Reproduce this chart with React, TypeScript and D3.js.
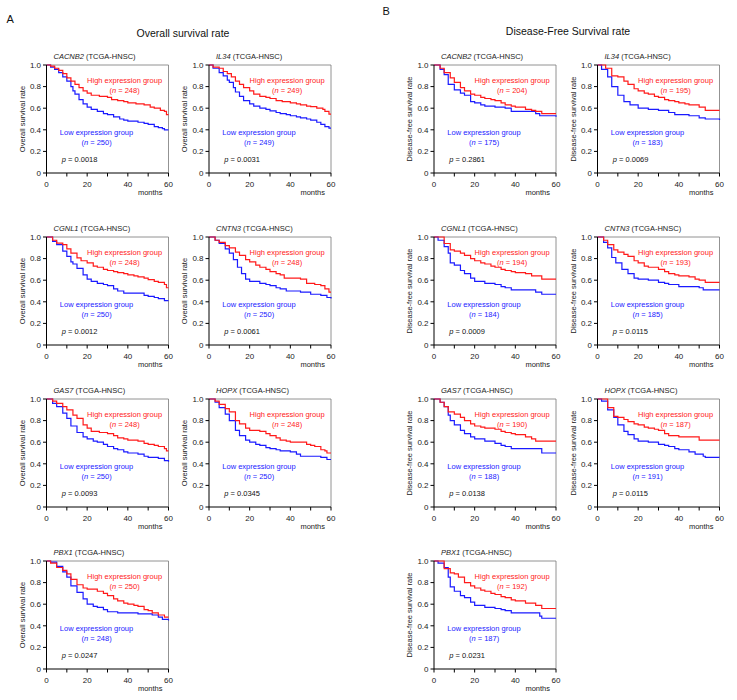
import React from "react";
import * as d3 from "d3";

type Pt = [number, number];

const GENES = ["CACNB2", "IL34", "CGNL1", "CNTN3", "GAS7", "HOPX", "PBX1"];
const X_TICKS = [0, 10, 20, 30, 40, 50, 60];
const X_LABELS = [0, 20, 40, 60];
const Y_TICKS = [0, 0.2, 0.4, 0.6, 0.8, 1.0];

const osHighN = [248, 249, 248, 248, 248, 248, 250];
const osLowN = [250, 249, 250, 250, 250, 250, 248];
const osP = ["0.0018", "0.0031", "0.0012", "0.0061", "0.0093", "0.0345", "0.0247"];
const dfsHighN = [204, 195, 194, 193, 190, 187, 192];
const dfsLowN = [175, 183, 184, 185, 188, 191, 187];
const dfsP = ["0.2861", "0.0069", "0.0009", "0.0115", "0.0138", "0.0115", "0.0231"];

// Overall survival
const osCACNB2High: Pt[] = [[0,1],[2,0.99],[4,0.97],[6,0.95],[8,0.92],[10,0.88],[12,0.85],[14,0.82],[16,0.79],[18,0.76],[20,0.74],[22,0.72],[26,0.71],[30,0.70],[32,0.68],[35,0.67],[38,0.66],[40,0.65],[44,0.64],[48,0.63],[51,0.61],[53,0.60],[56,0.58],[58,0.57],[59,0.54],[60,0.54]];
const osCACNB2Low: Pt[] = [[0,1],[2,0.98],[4,0.96],[6,0.93],[8,0.89],[10,0.85],[12,0.80],[13,0.76],[14,0.73],[16,0.68],[18,0.64],[20,0.61],[22,0.59],[25,0.57],[28,0.55],[30,0.54],[33,0.52],[36,0.50],[38,0.49],[40,0.48],[45,0.47],[48,0.46],[50,0.45],[53,0.43],[55,0.42],[57,0.41],[58,0.40],[60,0.40]];
const osIL34High: Pt[] = [[0,1],[2,0.98],[5,0.97],[7,0.94],[9,0.92],[11,0.89],[13,0.85],[15,0.82],[17,0.79],[20,0.76],[22,0.73],[25,0.71],[28,0.70],[30,0.69],[33,0.67],[36,0.66],[40,0.65],[43,0.64],[45,0.63],[48,0.62],[50,0.615],[53,0.60],[56,0.59],[57,0.57],[59,0.545],[60,0.545]];
const osIL34Low: Pt[] = [[0,1],[2,0.97],[5,0.93],[7,0.90],[9,0.86],[10,0.84],[12,0.79],[13,0.75],[15,0.71],[17,0.67],[20,0.64],[22,0.62],[25,0.60],[28,0.59],[30,0.575],[33,0.56],[35,0.55],[38,0.54],[40,0.53],[43,0.52],[45,0.51],[48,0.50],[50,0.49],[53,0.47],[55,0.45],[57,0.43],[59,0.415],[60,0.415]];
const osCGNL1High: Pt[] = [[0,1],[3,0.97],[5,0.944],[8,0.93],[10,0.89],[12,0.85],[15,0.806],[17,0.78],[20,0.76],[23,0.73],[25,0.72],[28,0.70],[30,0.69],[33,0.68],[35,0.67],[38,0.66],[40,0.65],[43,0.64],[45,0.63],[48,0.62],[50,0.605],[53,0.59],[55,0.58],[58,0.56],[59,0.53],[60,0.53]];
const osCGNL1Low: Pt[] = [[0,1],[3,0.96],[5,0.93],[8,0.87],[10,0.82],[12,0.77],[13,0.75],[15,0.71],[18,0.65],[20,0.61],[22,0.59],[25,0.57],[28,0.56],[30,0.55],[33,0.52],[35,0.50],[38,0.48],[45,0.48],[48,0.46],[50,0.45],[53,0.44],[55,0.43],[58,0.41],[60,0.41]];
const osCNTN3High: Pt[] = [[0,1],[3,0.97],[5,0.95],[8,0.92],[10,0.90],[13,0.86],[15,0.83],[18,0.79],[20,0.77],[23,0.74],[25,0.72],[28,0.70],[30,0.68],[33,0.66],[35,0.65],[37,0.62],[45,0.61],[48,0.57],[52,0.56],[55,0.55],[57,0.52],[59,0.49],[60,0.49]];
const osCNTN3Low: Pt[] = [[0,1],[3,0.97],[5,0.94],[8,0.89],[10,0.85],[12,0.79],[14,0.72],[16,0.66],[18,0.61],[20,0.59],[25,0.57],[28,0.56],[30,0.55],[33,0.53],[35,0.52],[38,0.50],[45,0.49],[50,0.47],[55,0.46],[58,0.44],[60,0.43]];
const osGAS7High: Pt[] = [[0,1],[3,0.98],[5,0.96],[8,0.93],[10,0.90],[13,0.85],[15,0.82],[18,0.76],[20,0.73],[22,0.70],[26,0.69],[30,0.68],[33,0.66],[35,0.64],[38,0.63],[40,0.62],[45,0.61],[48,0.59],[50,0.58],[53,0.57],[55,0.56],[58,0.54],[59,0.52],[60,0.52]];
const osGAS7Low: Pt[] = [[0,1],[3,0.96],[5,0.93],[8,0.87],[10,0.82],[12,0.75],[15,0.69],[18,0.65],[20,0.63],[23,0.61],[25,0.60],[28,0.58],[30,0.56],[33,0.54],[35,0.53],[38,0.51],[40,0.50],[45,0.49],[48,0.47],[50,0.46],[55,0.45],[58,0.43],[60,0.42]];
const osHOPXHigh: Pt[] = [[0,1],[3,0.98],[5,0.95],[8,0.91],[10,0.88],[13,0.80],[15,0.77],[18,0.73],[20,0.71],[25,0.70],[28,0.68],[30,0.66],[33,0.64],[35,0.62],[38,0.61],[40,0.60],[45,0.60],[48,0.58],[50,0.57],[52,0.56],[55,0.53],[57,0.52],[58,0.50],[60,0.50]];
const osHOPXLow: Pt[] = [[0,1],[3,0.97],[5,0.92],[8,0.86],[10,0.80],[13,0.71],[15,0.66],[18,0.62],[20,0.60],[23,0.58],[25,0.57],[28,0.55],[30,0.54],[33,0.53],[35,0.52],[40,0.51],[43,0.49],[45,0.47],[50,0.47],[55,0.46],[58,0.44],[60,0.44]];
const osPBX1High: Pt[] = [[0,1],[2,0.98],[5,0.94],[8,0.913],[10,0.88],[12,0.83],[15,0.78],[18,0.75],[20,0.74],[25,0.72],[28,0.70],[30,0.68],[33,0.65],[35,0.63],[38,0.61],[40,0.60],[43,0.59],[45,0.58],[48,0.55],[50,0.54],[52,0.52],[55,0.50],[58,0.48],[60,0.48]];
const osPBX1Low: Pt[] = [[0,1],[2,0.99],[5,0.95],[8,0.90],[10,0.85],[12,0.77],[15,0.71],[18,0.65],[20,0.60],[23,0.58],[25,0.57],[28,0.55],[30,0.53],[35,0.52],[45,0.51],[52,0.50],[55,0.48],[57,0.46],[60,0.45]];

// Disease-free survival
const dfsCACNB2High: Pt[] = [[0,1],[3,0.97],[5,0.93],[8,0.88],[10,0.84],[13,0.79],[15,0.76],[18,0.73],[20,0.72],[23,0.70],[25,0.69],[28,0.68],[30,0.67],[33,0.65],[35,0.63],[38,0.62],[40,0.61],[45,0.59],[48,0.58],[50,0.57],[53,0.55],[60,0.55]];
const dfsCACNB2Low: Pt[] = [[0,1],[3,0.96],[5,0.91],[7,0.82],[10,0.77],[13,0.74],[15,0.72],[18,0.66],[20,0.65],[23,0.63],[25,0.62],[30,0.61],[35,0.60],[38,0.57],[45,0.57],[50,0.55],[52,0.53],[60,0.52]];
const dfsIL34High: Pt[] = [[0,1],[2,1],[4,0.97],[7,0.90],[10,0.89],[13,0.85],[15,0.82],[18,0.78],[20,0.76],[23,0.74],[25,0.73],[28,0.71],[30,0.70],[33,0.68],[35,0.67],[38,0.66],[40,0.65],[43,0.64],[45,0.63],[50,0.61],[53,0.58],[60,0.58]];
const dfsIL34Low: Pt[] = [[0,1],[2,0.96],[5,0.89],[7,0.80],[10,0.72],[13,0.66],[16,0.63],[20,0.60],[25,0.59],[30,0.58],[35,0.56],[38,0.54],[45,0.53],[50,0.51],[53,0.50],[60,0.49]];
const dfsCGNL1High: Pt[] = [[0,1],[3,1],[5,0.94],[8,0.88],[10,0.87],[13,0.85],[15,0.83],[18,0.80],[20,0.78],[23,0.76],[25,0.75],[28,0.73],[30,0.72],[33,0.70],[35,0.69],[38,0.68],[40,0.67],[45,0.66],[48,0.64],[53,0.61],[60,0.61]];
const dfsCGNL1Low: Pt[] = [[0,1],[2,0.97],[5,0.91],[7,0.85],[8,0.76],[10,0.74],[13,0.69],[15,0.66],[18,0.62],[20,0.59],[25,0.57],[30,0.56],[33,0.54],[35,0.53],[38,0.51],[45,0.51],[50,0.49],[53,0.47],[60,0.47]];
const dfsCNTN3High: Pt[] = [[0,1],[3,0.97],[5,0.93],[8,0.88],[10,0.86],[13,0.84],[15,0.82],[18,0.78],[20,0.76],[23,0.73],[25,0.72],[30,0.70],[33,0.68],[35,0.66],[38,0.65],[40,0.64],[45,0.63],[48,0.61],[50,0.60],[53,0.58],[60,0.58]];
const dfsCNTN3Low: Pt[] = [[0,1],[3,0.95],[5,0.90],[7,0.81],[9,0.76],[12,0.70],[15,0.66],[18,0.62],[20,0.61],[25,0.60],[30,0.58],[33,0.57],[35,0.56],[40,0.54],[45,0.54],[50,0.53],[52,0.51],[60,0.51]];
const dfsGAS7High: Pt[] = [[0,1],[3,0.97],[5,0.93],[7,0.88],[10,0.86],[13,0.83],[15,0.80],[18,0.77],[20,0.75],[23,0.74],[25,0.73],[30,0.72],[33,0.70],[35,0.69],[38,0.68],[40,0.67],[45,0.65],[48,0.63],[50,0.61],[60,0.61]];
const dfsGAS7Low: Pt[] = [[0,1],[3,0.97],[5,0.93],[7,0.85],[8,0.80],[10,0.76],[13,0.71],[15,0.68],[18,0.65],[20,0.63],[25,0.61],[30,0.59],[33,0.57],[35,0.56],[38,0.54],[52,0.54],[53,0.50],[60,0.50]];
const dfsHOPXHigh: Pt[] = [[0,1],[2,1],[5,0.92],[8,0.84],[10,0.83],[13,0.81],[15,0.79],[18,0.77],[20,0.76],[23,0.74],[25,0.73],[28,0.72],[30,0.71],[33,0.68],[35,0.66],[40,0.65],[48,0.65],[50,0.62],[60,0.62]];
const dfsHOPXLow: Pt[] = [[0,1],[2,0.98],[5,0.90],[8,0.83],[10,0.76],[13,0.70],[15,0.67],[18,0.63],[20,0.61],[25,0.60],[30,0.58],[33,0.57],[35,0.56],[38,0.54],[40,0.53],[45,0.51],[48,0.49],[52,0.47],[53,0.46],[60,0.46]];
const dfsPBX1High: Pt[] = [[0,1],[3,1],[5,0.93],[8,0.89],[10,0.88],[12,0.85],[15,0.80],[18,0.77],[20,0.75],[23,0.73],[25,0.72],[28,0.70],[30,0.69],[33,0.67],[35,0.66],[38,0.64],[40,0.63],[45,0.61],[50,0.59],[53,0.56],[60,0.56]];
const dfsPBX1Low: Pt[] = [[0,1],[2,0.98],[5,0.94],[7,0.85],[8,0.76],[10,0.72],[13,0.68],[15,0.66],[18,0.62],[20,0.59],[25,0.57],[30,0.56],[33,0.55],[35,0.54],[38,0.52],[45,0.52],[52,0.49],[53,0.47],[60,0.47]];

const osHighCurves = [osCACNB2High, osIL34High, osCGNL1High, osCNTN3High, osGAS7High, osHOPXHigh, osPBX1High];
const osLowCurves = [osCACNB2Low, osIL34Low, osCGNL1Low, osCNTN3Low, osGAS7Low, osHOPXLow, osPBX1Low];
const dfsHighCurves = [dfsCACNB2High, dfsIL34High, dfsCGNL1High, dfsCNTN3High, dfsGAS7High, dfsHOPXHigh, dfsPBX1High];
const dfsLowCurves = [dfsCACNB2Low, dfsIL34Low, dfsCGNL1Low, dfsCNTN3Low, dfsGAS7Low, dfsHOPXLow, dfsPBX1Low];

const FONT = "'Liberation Sans', Arial, Helvetica, sans-serif";
const RED = "#ff1a1a";
const BLUE = "#1a1aff";
const COL_X = [46.5, 209, 434, 597.5];
const ROW_Y = [65, 237, 399, 561];
const PW = 122;
const PH = 108;

type PanelProps = {
  x0: number; y0: number; gene: string; yLabel: string;
  high: Pt[]; low: Pt[]; nHigh: number; nLow: number; p: string;
};

function Panel({ x0, y0, gene, yLabel, high, low, nHigh, nLow, p }: PanelProps) {
  const x = d3.scaleLinear().domain([0, 60]).range([x0, x0 + PW]);
  const y = d3.scaleLinear().domain([0, 1]).range([y0 + PH, y0]);
  const line = d3.line<Pt>().x(d => x(d[0])).y(d => y(d[1])).curve(d3.curveStepAfter);
  const yb = y0 + PH;
  const hx = x0 + PW * 0.64;
  const lx = x0 + PW * 0.41;
  return (
    <g fontFamily={FONT}>
      <text x={x0 + 7} y={y0 - 6} fontSize={7.5} fill="#222">
        <tspan fontStyle="italic">{gene}</tspan> (TCGA-HNSC)
      </text>
      <path d={`M${x0},${y0}H${x0 + PW}V${yb}`} fill="none" stroke="#777" strokeWidth={0.8} />
      <path d={line(low) || ""} fill="none" stroke={BLUE} strokeWidth={1.2} />
      <path d={line(high) || ""} fill="none" stroke={RED} strokeWidth={1.2} />
      <line x1={x0} x2={x0} y1={y0} y2={yb} stroke="#000" strokeWidth={1} />
      <line x1={x0} x2={x0 + PW} y1={yb} y2={yb} stroke="#000" strokeWidth={1} />
      {Y_TICKS.map(t => (
        <g key={"y" + t}>
          <line x1={x0 - 3.5} x2={x0} y1={y(t)} y2={y(t)} stroke="#000" strokeWidth={1} />
          <text x={x0 - 5.5} y={y(t) + 2.8} fontSize={8} textAnchor="end" fill="#222">
            {t === 0 ? "0" : t.toFixed(1)}
          </text>
        </g>
      ))}
      {X_TICKS.map(t => (
        <line key={"x" + t} x1={x(t)} x2={x(t)} y1={yb} y2={yb + 3.5} stroke="#000" strokeWidth={1} />
      ))}
      {X_LABELS.map(t => (
        <text key={"xl" + t} x={x(t)} y={yb + 14} fontSize={8} textAnchor="middle" fill="#222">{t}</text>
      ))}
      <text x={x0 + PW - 6} y={yb + 22} fontSize={7.5} textAnchor="end" fill="#222">months</text>
      <text transform={`translate(${x0 - 22},${y0 + PH / 2}) rotate(-90)`} fontSize={7.5} textAnchor="middle" fill="#222">
        {yLabel}
      </text>
      <text x={hx} y={y(0.86) + 2.7} fontSize={7.5} textAnchor="middle" fill={RED}>High expression group</text>
      <text x={hx} y={y(0.77) + 2.7} fontSize={7.5} textAnchor="middle" fill={RED}>
        (<tspan fontStyle="italic">n</tspan> = {nHigh})
      </text>
      <text x={lx} y={y(0.375) + 2.7} fontSize={7.5} textAnchor="middle" fill={BLUE}>Low expression group</text>
      <text x={lx} y={y(0.285) + 2.7} fontSize={7.5} textAnchor="middle" fill={BLUE}>
        (<tspan fontStyle="italic">n</tspan> = {nLow})
      </text>
      <text x={x0 + PW * 0.125} y={y(0.13) + 2.7} fontSize={7.5} fill="#111">
        <tspan fontStyle="italic">p</tspan> = {p}
      </text>
    </g>
  );
}

export default function App() {
  const panels: React.ReactNode[] = [];
  GENES.forEach((g, i) => {
    const row = Math.floor(i / 2);
    const col = i % 2;
    panels.push(
      <Panel key={"os" + g} x0={COL_X[col]} y0={ROW_Y[row]} gene={g} yLabel="Overall  survival rate"
        high={osHighCurves[i]} low={osLowCurves[i]} nHigh={osHighN[i]} nLow={osLowN[i]} p={osP[i]} />
    );
    panels.push(
      <Panel key={"dfs" + g} x0={COL_X[col + 2]} y0={ROW_Y[row]} gene={g} yLabel="Disease-free survival rate"
        high={dfsHighCurves[i]} low={dfsLowCurves[i]} nHigh={dfsHighN[i]} nLow={dfsLowN[i]} p={dfsP[i]} />
    );
  });
  return (
    <svg width={737} height={700} style={{ position: "absolute", left: 0, top: 0, background: "#fff" }}
      fontFamily={FONT}>
      <rect x={0} y={0} width={737} height={700} fill="#fff" />
      <text x={6.5} y={22.5} fontSize={11} fill="#111">A</text>
      <text x={382.5} y={15} fontSize={11} fill="#111">B</text>
      <text x={183} y={37} fontSize={10.5} textAnchor="middle" fill="#111">Overall survival rate</text>
      <text x={568} y={34.5} fontSize={10.5} textAnchor="middle" fill="#111">Disease-Free Survival rate</text>
      {panels}
    </svg>
  );
}
